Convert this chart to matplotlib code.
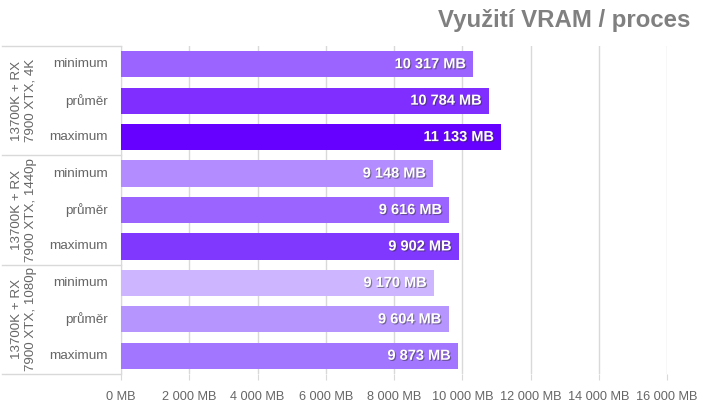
import matplotlib
matplotlib.use("Agg")
import matplotlib.pyplot as plt
import matplotlib.patheffects as pe
from matplotlib.transforms import blended_transform_factory

plt.rcParams["font.family"] = ["Liberation Sans", "DejaVu Sans"]

groups = ["13700K + RX\n7900 XTX, 4K",
          "13700K + RX\n7900 XTX, 1440p",
          "13700K + RX\n7900 XTX, 1080p"]
stats = ["minimum", "průměr", "maximum"]
values = [10317, 10784, 11133,
          9148, 9616, 9902,
          9170, 9604, 9873]
colors = ["#9b63ff", "#7f2eff", "#6600ff",
          "#b38cff", "#9b63ff", "#8038ff",
          "#cdb6ff", "#b695ff", "#a276ff"]
xticks = [0, 2000, 4000, 6000, 8000, 10000, 12000, 14000, 16000]

W, H = 720, 405
fig = plt.figure(figsize=(W / 100, H / 100), dpi=100)
x0, x1, y0, y1 = 121, 667, 46, 374
ax = fig.add_axes([x0 / W, 1 - y1 / H, (x1 - x0) / W, (y1 - y0) / H])

rows = list(range(len(values)))
ax.barh(rows, values, height=0.72, color=colors, zorder=3)
ax.set_ylim(len(values) - 0.5, -0.5)
ax.set_xlim(0, 16000)

def fmt(v):
    return f"{v:,}".replace(",", " ")

for r, v in zip(rows, values):
    ax.annotate(fmt(v) + " MB", (v, r), xytext=(-5, 0), textcoords="offset points",
                ha="right", va="center", color="white", fontsize=10.5,
                fontweight="bold", zorder=4,
                path_effects=[pe.withSimplePatchShadow(offset=(0.8, -0.8),
                                                       shadow_rgbFace="#333333",
                                                       alpha=0.5)])

ax.set_xticks(xticks)
ax.set_xticklabels([fmt(t) + " MB" for t in xticks], color="#666666", fontsize=9.2)
ax.tick_params(axis="x", length=4, color="#d9d9d9", pad=8)
ax.set_yticks([])
ax.grid(axis="x", color="#d9d9d9", linewidth=1, zorder=0)
for s in ["top", "right", "bottom"]:
    ax.spines[s].set_visible(False)
ax.spines["left"].set_color("#d9d9d9")

# category axis: stat names and group boxes
tr = blended_transform_factory(ax.transAxes, ax.transData)
px = 1 / (x1 - x0)
for r in rows:
    ax.text(-13 * px, r, stats[r % 3], transform=tr, ha="right", va="center",
            color="#666666", fontsize=9.7)
for i, g in enumerate(groups):
    ax.text(-97 * px, 3 * i + 1, g, transform=tr, ha="center", va="center",
            rotation=90, color="#666666", fontsize=9.6, linespacing=1.2)
for b in [-0.5, 2.5, 5.5, 8.5]:
    ax.plot([-119 * px, 0], [b, b], transform=tr, color="#d9d9d9",
            linewidth=1, clip_on=False)

fig.text(690 / W, 1 - 20 / H, "Využití VRAM / proces", ha="right", va="center",
         color="#808080", fontsize=17.3, fontweight="bold")

fig.savefig("out.png", dpi=100)
